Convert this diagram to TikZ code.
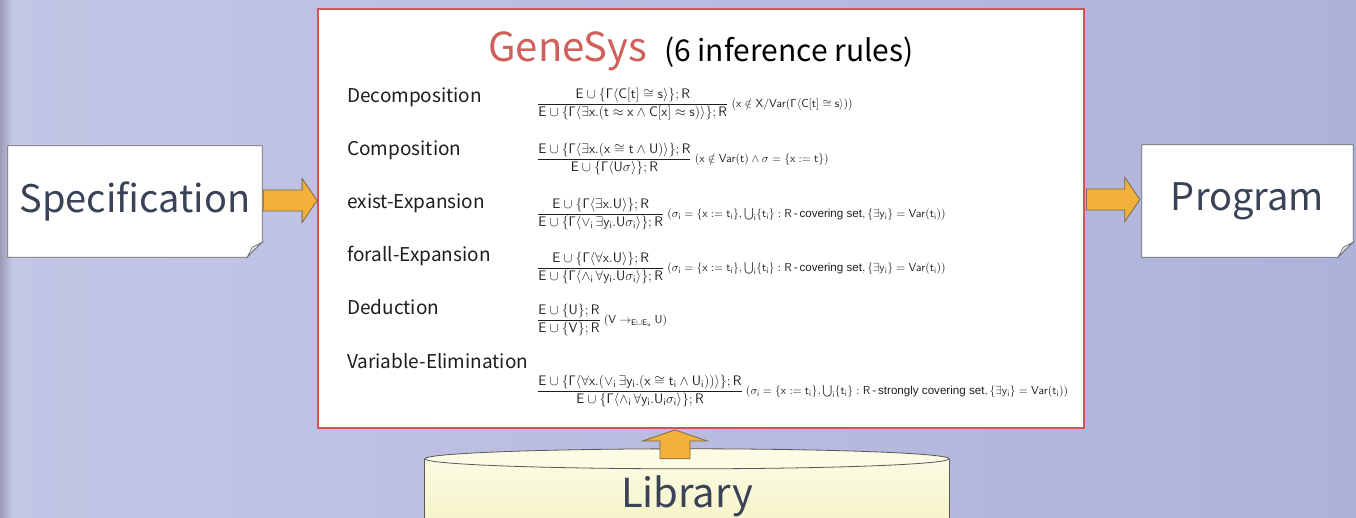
\RequirePackage{fix-cm}
\documentclass[tikz,border=0pt]{standalone}
\usepackage{amsmath,amssymb}
\usepackage[no-math]{fontspec}
\setmainfont{Liberation Sans}
\newfontfamily\jpf{Noto Sans CJK JP}
\usetikzlibrary{calc,backgrounds}
\definecolor{bgL}{HTML}{C4C6E6}
\definecolor{bgM}{HTML}{D0D2EE}
\definecolor{bgR}{HTML}{AEB2DA}
\definecolor{boxred}{HTML}{D05555}
\definecolor{gsred}{HTML}{D0605C}
\definecolor{arrowfill}{HTML}{F2B13A}
\definecolor{arrowline}{HTML}{7A6A40}
\definecolor{paperline}{HTML}{6E6E6E}
\definecolor{bigtext}{HTML}{3A4258}
\definecolor{labeltext}{HTML}{1E1E1E}
\definecolor{libtop}{HTML}{FCFBE4}
\definecolor{libbot}{HTML}{F3F1BE}
\newcommand\fracsize{\fontsize{13.8}{16}\selectfont}
\newcommand\condsize{\fontsize{11.6}{14}\selectfont}
\begin{document}
\begin{tikzpicture}[x=1pt,y=-1pt,
  mainbox/.style={draw=boxred,line width=1.8pt,fill=white,minimum width=766pt,minimum height=419pt,inner sep=0pt},
  paper/.style={inner sep=0pt,text=bigtext,font=\jpf\fontsize{38}{44}\selectfont},
  papershape/.style={fill=white,draw=paperline,line width=0.8pt},
  curl/.style={fill=gray!18,draw=paperline,line width=0.6pt},
  rulelabel/.style={anchor=base west,inner sep=0pt,text=labeltext,font=\jpf\fontsize{19}{23}\selectfont},
  formula/.style={anchor=west,inner sep=0pt,text=labeltext},
  blockarrow/.style={fill=arrowfill,draw=arrowline,line width=0.8pt,line join=miter},
  libline/.style={draw=paperline!80!black,line width=0.8pt}]
\useasboundingbox (0,0) rectangle (1356,518);
\clip (0,0) rectangle (1356,518);

% main box
\node[mainbox] (main) at (701,218.5) {};
\node (title) at (701,51) {{\jpf\fontsize{40}{44}\selectfont\color{gsred}GeneSys}\hspace{17pt}{\jpf\fontsize{30}{34}\selectfont (6 inference rules)}};

% rule labels
\node[rulelabel] (l1) at (347,103) {Decomposition};
\node[rulelabel] (l2) at (347,156) {Composition};
\node[rulelabel] (l3) at (347,209) {exist-Expansion};
\node[rulelabel] (l4) at (347,262) {forall-Expansion};
\node[rulelabel] (l5) at (347,315) {Deduction};
\node[rulelabel] (l6) at (347,368) {Variable-Elimination};

% formulas
\node[formula] (f1) at (537,104) {\fracsize$\mathsf{\dfrac{E\cup\{\Gamma\langle C[t]\cong s\rangle\};R}{E\cup\{\Gamma\langle\exists x.(t\approx x\wedge C[x]\approx s)\rangle\};R}}$\condsize$\mathsf{\;(x\notin X/Var(\Gamma\langle C[t]\cong s\rangle))}$};
\node[formula] (f2) at (537,159) {\fracsize$\mathsf{\dfrac{E\cup\{\Gamma\langle\exists x.(x\cong t\wedge U)\rangle\};R}{E\cup\{\Gamma\langle U\sigma\rangle\};R}}$\condsize$\mathsf{\;(x\notin Var(t)\wedge\sigma=\{x:=t\})}$};
\node[formula] (f3) at (537,214) {\fracsize$\mathsf{\dfrac{E\cup\{\Gamma\langle\exists x.U\rangle\};R}{E\cup\{\Gamma\langle\vee_i\,\exists y_i.U\sigma_i\rangle\};R}}$\condsize$\mathsf{\;(\sigma_i=\{x:=t_i\},\textstyle\bigcup_i\{t_i\}:R\text{\,-\,covering set},\{\exists y_i\}=Var(t_i))}$};
\node[formula] (f4) at (537,268) {\fracsize$\mathsf{\dfrac{E\cup\{\Gamma\langle\forall x.U\rangle\};R}{E\cup\{\Gamma\langle\wedge_i\,\forall y_i.U\sigma_i\rangle\};R}}$\condsize$\mathsf{\;(\sigma_i=\{x:=t_i\},\textstyle\bigcup_i\{t_i\}:R\text{\,-\,covering set},\{\exists y_i\}=Var(t_i))}$};
\node[formula] (f5) at (537,320) {\fracsize$\mathsf{\dfrac{E\cup\{U\};R}{E\cup\{V\};R}}$\condsize$\mathsf{\;(V\to_{E\cup E_u}U)}$};
\node[formula] (f6) at (537,391) {\fracsize$\mathsf{\dfrac{E\cup\{\Gamma\langle\forall x.(\vee_i\,\exists y_i.(x\cong t_i\wedge U_i))\rangle\};R}{E\cup\{\Gamma\langle\wedge_i\,\forall y_i.U_i\sigma_i\rangle\};R}}$\condsize$\mathsf{\;(\sigma_i=\{x:=t_i\},\textstyle\bigcup_i\{t_i\}:R\text{\,-\,strongly covering set},\{\exists y_i\}=Var(t_i))}$};

% side papers
\node[paper,minimum width=254pt,minimum height=111pt] (spec) at (135,201.5) {Specification};
\node[paper,minimum width=211pt,minimum height=112pt] (prog) at (1247.5,201) {Program};
\node[inner sep=0pt,minimum width=524pt,minimum height=74pt,text=bigtext,font=\jpf\fontsize{40}{46}\selectfont] (lib) at (687,496) {Library};

% arrows
\coordinate (a1s) at ($(spec.east)+(1,-1)$);
\coordinate (a1e) at (a1s -| main.west);
\draw[blockarrow] ($(a1s)+(0,-10.5)$) -- ($(a1e)+(-15,-10.5)$) -- ($(a1e)+(-15,-22)$) -- (a1e) -- ($(a1e)+(-15,22)$) -- ($(a1e)+(-15,10.5)$) -- ($(a1s)+(0,10.5)$) -- cycle;
\coordinate (a2e) at ($(prog.west)+(-2,-1.5)$);
\coordinate (a2s) at ($(a2e -| main.east)+(1.5,0)$);
\draw[blockarrow] ($(a2s)+(0,-10.5)$) -- ($(a2e)+(-15,-10.5)$) -- ($(a2e)+(-15,-22)$) -- (a2e) -- ($(a2e)+(-15,22)$) -- ($(a2e)+(-15,10.5)$) -- ($(a2s)+(0,10.5)$) -- cycle;
\coordinate (a3s) at ($(lib.north)+(-12,0)$);
\coordinate (a3e) at ($(a3s |- main.south)+(0,1)$);
\draw[blockarrow] ($(a3s)+(-15,0)$) -- ($(a3e)+(-15,11)$) -- ($(a3e)+(-32,11)$) -- (a3e) -- ($(a3e)+(32,11)$) -- ($(a3e)+(15,11)$) -- ($(a3s)+(15,0)$) -- cycle;

\begin{scope}[on background layer]
  \shade[left color=bgL,middle color=bgM,right color=bgR] (0,0) rectangle (1356,518);
  \shade[left color=black!30!bgL,right color=bgL,opacity=0.7] (0,0) rectangle (12,518);
  % spec paper
  \filldraw[papershape] (spec.north west) -- (spec.north east) -- ($(spec.south east)+(0,-15)$) -- ($(spec.south east)+(-15,0)$) -- (spec.south west) -- cycle;
  \filldraw[curl] ($(spec.south east)+(0,-15)$) .. controls ($(spec.south east)+(-7,-9)$) .. ($(spec.south east)+(-15,0)$) -- ($(spec.south east)+(-10,-10)$) -- cycle;
  % program paper
  \filldraw[papershape] (prog.north west) -- (prog.north east) -- ($(prog.south east)+(0,-15)$) -- ($(prog.south east)+(-15,0)$) -- (prog.south west) -- cycle;
  \filldraw[curl] ($(prog.south east)+(0,-15)$) .. controls ($(prog.south east)+(-7,-9)$) .. ($(prog.south east)+(-15,0)$) -- ($(prog.south east)+(-10,-10)$) -- cycle;
  % library cylinder
  \shade[top color=libtop,bottom color=libbot] (lib.north west) rectangle ($(lib.south east)+(0,10)$);
  \draw[libline] (lib.north west) -- ($(lib.south west)+(0,10)$);
  \draw[libline] (lib.north east) -- ($(lib.south east)+(0,10)$);
  \filldraw[libline,fill=libtop] (lib.north) ellipse [x radius=262pt,y radius=10pt];
\end{scope}
\end{tikzpicture}
\end{document}
